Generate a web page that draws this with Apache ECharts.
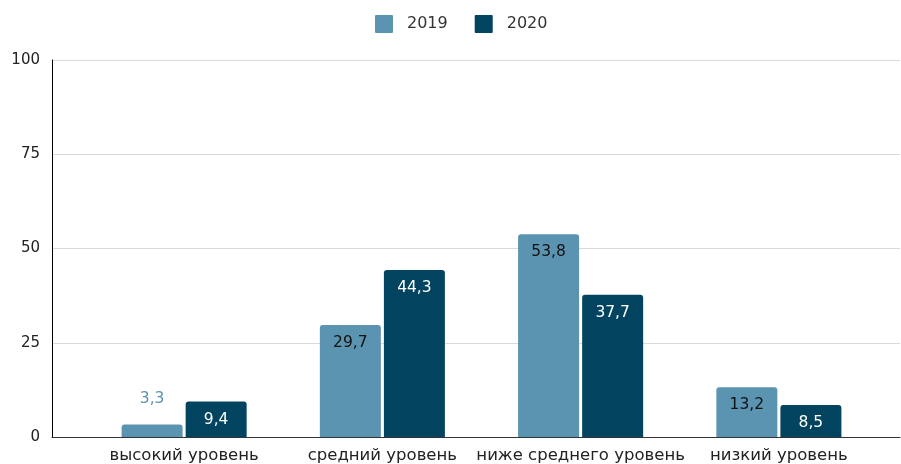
<!DOCTYPE html>
<html><head><meta charset="utf-8">
<script src="https://cdn.jsdelivr.net/npm/echarts@6/dist/echarts.min.js"></script>
<style>html,body{margin:0;padding:0;background:#fff}#c{width:901px;height:464px}</style>
</head><body><div id="c"></div>
<script>
const categories = ['высокий уровень', 'средний уровень', 'ниже среднего уровень', 'низкий уровень'];
const series2019 = [3.3, 29.7, 53.8, 13.2];
const series2020 = [9.4, 44.3, 37.7, 8.5];
const seriesNames = ['2019', '2020'];
const colors = ['#5a94b1', '#02445f'];

const fmt = p => String(p.value).replace('.', ',');
const FONT = 'DejaVu Sans, sans-serif';

const chart = echarts.init(document.getElementById('c'), null, {renderer: 'canvas'});
chart.setOption({
  animation: false,
  textStyle: {fontFamily: FONT},
  legend: {
    top: 10, left: 370, itemWidth: 18, itemHeight: 18, itemGap: 27,
    icon: 'path://M1,0 L17,0 Q18,0 18,1 L18,17 Q18,18 17,18 L1,18 Q0,18 0,17 L0,1 Q0,0 1,0 Z',
    textStyle: {fontSize: 16, color: '#333', fontFamily: FONT, padding: [0, 0, 0, 9]},
    data: seriesNames
  },
  grid: [
    {left: 52, right: 1, top: 60, bottom: 27, containLabel: false},
    {left: 85, right: 23, top: 60, bottom: 27, containLabel: false}
  ],
  xAxis: [
    {gridIndex: 0, type: 'category', data: categories, axisLine: {lineStyle: {color: '#333', width: 1}},
     axisTick: {show: false}, axisLabel: {show: false}},
    {gridIndex: 1, type: 'category', data: categories, axisLine: {show: false}, axisTick: {show: false},
     axisLabel: {interval: 0, fontSize: 16.5, color: '#222', margin: 10, fontFamily: FONT}}
  ],
  yAxis: [
    {gridIndex: 0, type: 'value', min: 0, max: 100, interval: 25,
     axisLine: {show: true, lineStyle: {color: '#000', width: 1}},
     axisTick: {show: false},
     splitLine: {lineStyle: {color: '#d9d9d9', width: 1}},
     axisLabel: {fontSize: 15, color: '#222', margin: 12, fontFamily: FONT}},
    {gridIndex: 1, type: 'value', min: 0, max: 100, interval: 25, show: false, splitLine: {show: false}}
  ],
  series: [
    {name: seriesNames[0], type: 'bar', xAxisIndex: 1, yAxisIndex: 1, data: series2019.map((v, i) => i === 0 ? {value: v, label: {position: 'top', distance: 18, color: colors[0]}} : v),
     barWidth: 61, barGap: '5%', itemStyle: {color: colors[0], borderRadius: [3, 3, 0, 0]},
     label: {show: true, position: 'insideTop', distance: 10, fontSize: 15.5, color: '#111', formatter: fmt, fontFamily: FONT}},
    {name: seriesNames[1], type: 'bar', xAxisIndex: 1, yAxisIndex: 1, data: series2020,
     barWidth: 61, barGap: '5%', itemStyle: {color: colors[1], borderRadius: [3, 3, 0, 0]},
     label: {show: true, position: 'insideTop', distance: 10, fontSize: 15.5, color: '#fff', formatter: fmt, fontFamily: FONT}}
  ]
});
</script></body></html>
